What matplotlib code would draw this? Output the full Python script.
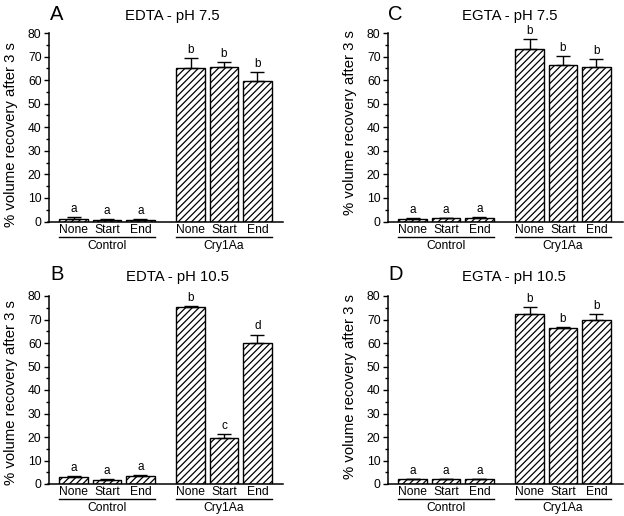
import matplotlib
matplotlib.use("Agg")
import matplotlib.pyplot as plt
import numpy as np

plt.rcParams['font.family'] = ['Liberation Sans', 'DejaVu Sans']
plt.rcParams['hatch.linewidth'] = 0.9

conditions = ["None", "Start", "End"]
groups = ["Control", "Cry1Aa"]
panel_letters = ["A", "C", "B", "D"]
panel_titles = ["EDTA - pH 7.5", "EGTA - pH 7.5", "EDTA - pH 10.5", "EGTA - pH 10.5"]

# values: control None, Start, End, Cry1Aa None, Start, End
vals_A = [1.2, 0.8, 0.8, 65.1, 65.6, 59.7]
errs_A = [0.5, 0.3, 0.3, 4.1, 2.0, 3.7]
sig_A = ["a", "a", "a", "b", "b", "b"]

vals_C = [0.9, 1.3, 1.6, 73.0, 66.3, 65.5]
errs_C = [0.4, 0.2, 0.4, 4.4, 3.8, 3.3]
sig_C = ["a", "a", "a", "b", "b", "b"]

vals_B = [3.0, 1.8, 3.2, 75.2, 19.4, 60.2]
errs_B = [0.5, 0.3, 0.5, 0.4, 1.7, 3.4]
sig_B = ["a", "a", "a", "b", "c", "d"]

vals_D = [2.1, 2.1, 2.1, 72.2, 66.3, 69.9]
errs_D = [0.2, 0.2, 0.2, 3.1, 0.5, 2.3]
sig_D = ["a", "a", "a", "b", "b", "b"]

data = [(vals_A, errs_A, sig_A), (vals_C, errs_C, sig_C),
        (vals_B, errs_B, sig_B), (vals_D, errs_D, sig_D)]

W, H = 624, 516
fig = plt.figure(figsize=(W / 100, H / 100), dpi=100)

# axes boxes in pixels: left, top(y=80), right, bottom(y=0)
boxes = [(48.5, 33, 283.5, 221.5), (387.5, 33, 622.5, 221.5),
         (48.5, 296, 283.5, 484), (387.5, 296, 622.5, 484)]
letter_pos = [(50, 20), (388, 20), (50, 280), (388, 280)]
title_pos = [(172, 20), (510, 20), (177, 281), (514, 281)]
ylabel_pos = [(11, 135), (350, 123), (11, 393), (350, 387)]

x = np.array([0, 1, 2, 3.5, 4.5, 5.5])

for i, (vals, errs, sig) in enumerate(data):
    l, t, r, b = boxes[i]
    ax = fig.add_axes([l / W, 1 - b / H, (r - l) / W, (b - t) / H])
    ax.bar(x, vals, width=0.85, color='white', edgecolor='black',
           linewidth=1.0, hatch='/////', zorder=2)
    ax.errorbar(x, vals, yerr=[np.zeros(6), errs], fmt='none', ecolor='black',
                elinewidth=1.0, capsize=5, capthick=1.0, zorder=3)
    for xi, v, e, s in zip(x, vals, errs, sig):
        ax.annotate(s, (xi, v + e), xytext=(0, 1.5), textcoords='offset points',
                    ha='center', va='bottom', fontsize=8.5)
    ax.set_xlim(-0.75, 6.28)
    ax.set_ylim(0, 80)
    ax.set_yticks(np.arange(0, 81, 10))
    ax.set_yticks(np.arange(5, 80, 10), minor=True)
    ax.set_xticks(x)
    ax.set_xticklabels(conditions * 2, fontsize=8.7)
    ax.tick_params(axis='x', length=0, pad=1.5)
    ax.tick_params(axis='y', which='major', length=3.5, width=1.0, labelsize=8.7, pad=1.5)
    ax.tick_params(axis='y', which='minor', length=2, width=1.0)
    for sp in ['top', 'right']:
        ax.spines[sp].set_visible(False)
    for sp in ['left', 'bottom']:
        ax.spines[sp].set_linewidth(1.1)
    trans = ax.get_xaxis_transform()
    for g, (x0, x1) in enumerate([(x[0], x[2]), (x[3], x[5])]):
        ax.plot([x0 - 0.45, x1 + 0.45], [-0.082, -0.082], transform=trans,
                color='black', lw=1.0, clip_on=False)
        ax.text((x0 + x1) / 2, -0.098, groups[g], transform=trans,
                ha='center', va='top', fontsize=8.7)
    lx, ly = letter_pos[i]
    fig.text(lx / W, 1 - ly / H, panel_letters[i], fontsize=14.5,
             ha='left', va='baseline')
    tx, ty = title_pos[i]
    fig.text(tx / W, 1 - ty / H, panel_titles[i], fontsize=10.7,
             ha='center', va='baseline')
    yx, yy = ylabel_pos[i]
    fig.text(yx / W, 1 - yy / H, "% volume recovery after 3 s", fontsize=10.7,
             rotation=90, ha='center', va='center')

fig.savefig("out.png", dpi=100)
